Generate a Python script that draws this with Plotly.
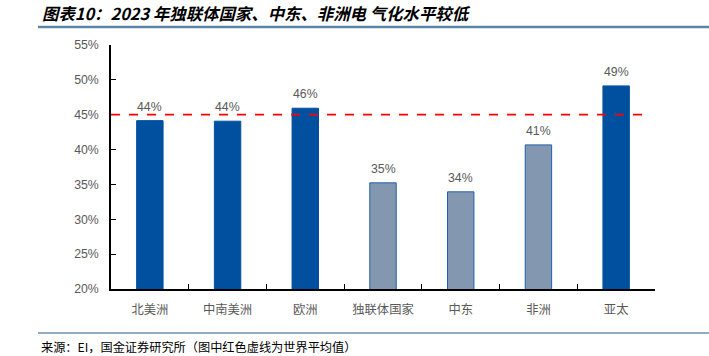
import plotly.graph_objects as go

categories = ["北美洲", "中南美洲", "欧洲", "独联体国家", "中东", "非洲", "亚太"]
values = [44.15, 44.07, 45.93, 35.23, 33.94, 40.67, 49.13]
labels = ["44%", "44%", "46%", "35%", "34%", "41%", "49%"]
highlight = [False, False, False, True, True, True, False]
world_avg = 45

DARK = "#0050A0"
GRAY = "#8497B0"
colors = [GRAY if h else DARK for h in highlight]
lines = ["#1F5FAD" if h else DARK for h in highlight]

L, R, T, B = 111, 655, 45, 289
W, H = 709, 356
def px(x):
    return (x - L) / (R - L)
def py(y):
    return (B - y) / (B - T)

fig = go.Figure()
fig.add_trace(go.Bar(
    x=categories, y=values, width=0.34,
    marker=dict(color=colors, line=dict(color=lines, width=1)),
    hoverinfo="skip",
))
for c, v, t in zip(categories, values, labels):
    fig.add_annotation(x=c, y=v, text=t, showarrow=False, yanchor="bottom",
                       yshift=5, font=dict(size=12.3, color="#595959",
                                           family="Liberation Sans, Arial"))

fig.add_shape(type="line", xref="x", yref="y", x0=-0.5, x1=6.34,
              y0=world_avg, y1=world_avg,
              line=dict(color="#FF0000", width=1.8, dash="dash"))

fig.add_shape(type="line", xref="paper", yref="paper", x0=px(38), x1=px(709),
              y0=py(27), y1=py(27), line=dict(color="#5B86A6", width=2.5))
fig.add_shape(type="line", xref="paper", yref="paper", x0=px(38), x1=px(709),
              y0=py(333), y1=py(333), line=dict(color="#1F5A8A", width=1.2))

fig.add_annotation(xref="paper", yref="paper", x=px(40), y=py(13),
                   xanchor="left", yanchor="middle", showarrow=False,
                   text="<b><i>图表10：2023 年独联体国家、中东、非洲电 气化水平较低</i></b>",
                   font=dict(size=16.4, color="#000000", family="Noto Sans CJK SC"))
fig.add_annotation(xref="paper", yref="paper", x=px(39), y=py(347),
                   xanchor="left", yanchor="middle", showarrow=False,
                   text="来源：EI，国金证券研究所（图中红色虚线为世界平均值）",
                   font=dict(size=12.2, color="#000000", family="Noto Sans CJK SC"))

fig.update_layout(
    width=W, height=H,
    margin=dict(l=L, r=W - R, t=T, b=H - B, pad=0),
    plot_bgcolor="white", paper_bgcolor="white",
    showlegend=False, bargap=0.66,
    font=dict(family="Noto Sans CJK SC", color="#595959"),
)
fig.update_xaxes(
    type="category", range=[-0.5, 6.5],
    showline=True, linecolor="#000000", linewidth=1.5,
    ticks="inside", tickson="boundaries", ticklen=5, tickcolor="#000000",
    ticklabelstandoff=8,
    showgrid=False, tickfont=dict(size=12.3, color="#595959", family="Noto Sans CJK SC"),
)
fig.update_yaxes(
    range=[20, 55], dtick=5, ticksuffix="%",
    showline=True, linecolor="#000000", linewidth=1.5,
    ticks="inside", ticklen=5, tickcolor="#000000",
    ticklabelstandoff=8,
    showgrid=False, zeroline=False,
    tickfont=dict(size=12.3, color="#595959", family="Liberation Sans, Arial"),
)

fig.write_html("out.html", config={"displayModeBar": False},
               post_script="document.body.style.margin='0';document.body.style.overflow='hidden';")
